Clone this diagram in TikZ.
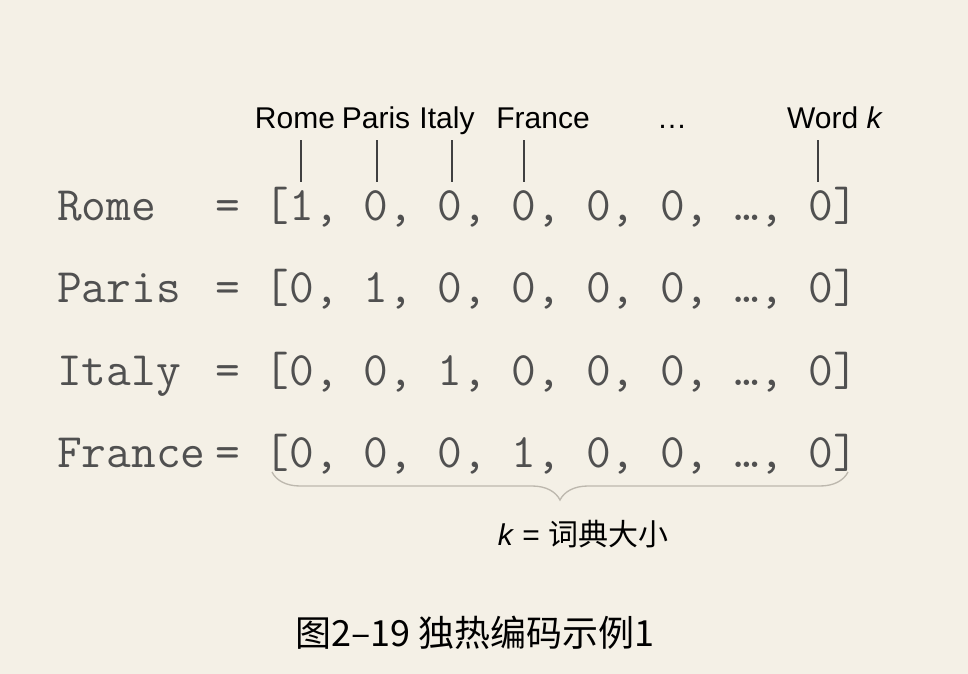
\documentclass[tikz,border=0pt]{standalone}
\usepackage{fontspec}
\setmainfont{Liberation Sans}
\newfontfamily\cjk{Noto Sans CJK SC}
\usetikzlibrary{decorations.pathreplacing}
\definecolor{bgcream}{HTML}{F4F0E6}
\definecolor{vecgray}{HTML}{505050}
\definecolor{bracegray}{HTML}{BDB8AE}
\begin{document}
\begin{tikzpicture}[x=0.75pt, y=-0.75pt, every node/.style={inner sep=0pt},
    rowtext/.style={anchor=base west, text=vecgray, font=\fontsize{36}{40}\selectfont\ttfamily},
    wordlab/.style={anchor=base, font=\fontsize{22.5}{27}\selectfont},
    tickline/.style={line width=1.1pt, black!75}]

    % 背景与画布大小
    \fill[bgcream] (0,0) rectangle (968,674);
    \useasboundingbox (0,0) rectangle (968,674);

    % ================= 词表标签 =================
    \node[wordlab] (wRome)   at (295,128) {Rome};
    \node[wordlab] (wParis)  at (376,128) {Paris};
    \node[wordlab] (wItaly)  at (447,128) {Italy};
    \node[wordlab] (wFrance) at (543,128) {France};
    \node[wordlab] (wDots)   at (672,128) {\dots};
    \node[wordlab] (wWordk)  at (835,128) {Word \textit{k}};

    % 对应位置的竖线
    \foreach \x [count=\i] in {301,377,452,524,818} {
        \coordinate (t\i) at (\x,140);
        \coordinate (b\i) at (\x,182);
        \draw[tickline] (t\i) -- (b\i);
    }

    % ================= 独热向量 =================
    \foreach \w/\v [count=\i] in {Rome/{[1, 0, 0, 0, 0, 0, …, 0]},
                                  Paris/{[0, 1, 0, 0, 0, 0, …, 0]},
                                  Italy/{[0, 0, 1, 0, 0, 0, …, 0]},
                                  France/{[0, 0, 0, 1, 0, 0, …, 0]}} {
        \node[rowtext] (r\w) at (57,{220+(\i-1)*82.5}) {\w};
        \node[rowtext] (v\w) at (215,{220+(\i-1)*82.5}) {= \v};
    }

    % 花括号：词典大小
    \coordinate (bl) at (272,472);
    \coordinate (br) at (848,472);
    \draw[bracegray, line width=1pt, decorate, decoration={brace, amplitude=21pt, mirror}] (bl) -- (br);
    \node[anchor=base, font=\fontsize{22.5}{27}\selectfont] (ksize) at (583,545) {\textit{k} = {\cjk 词典大小}};

    % 图题
    \node[anchor=base, font=\fontsize{27}{32}\selectfont\cjk] (caption) at (475,646) {图2–19 独热编码示例1};

\end{tikzpicture}
\end{document}
